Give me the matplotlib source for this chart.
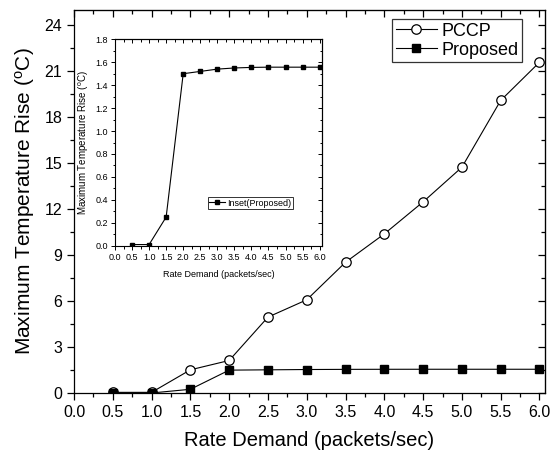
import matplotlib
matplotlib.use('Agg')
import matplotlib.pyplot as plt
from matplotlib.ticker import MultipleLocator

plt.rcParams['font.family'] = ['Liberation Sans', 'DejaVu Sans']
plt.rcParams['mathtext.default'] = 'regular'

# data
rate = [0.5, 1.0, 1.5, 2.0, 2.5, 3.0, 3.5, 4.0, 4.5, 5.0, 5.5, 6.0]
pccp = [0.05, 0.05, 1.52, 2.13, 4.96, 6.09, 8.54, 10.39, 12.48, 14.74, 19.1, 21.59]
proposed = [0.01, 0.01, 0.25, 1.50, 1.52, 1.54, 1.55, 1.555, 1.557, 1.557, 1.557, 1.557]

xticks = [0.0, 0.5, 1.0, 1.5, 2.0, 2.5, 3.0, 3.5, 4.0, 4.5, 5.0, 5.5, 6.0]
yticks = [0, 3, 6, 9, 12, 15, 18, 21, 24]
inset_yticks = [0.0, 0.2, 0.4, 0.6, 0.8, 1.0, 1.2, 1.4, 1.6, 1.8]

narrow = ['Liberation Sans Narrow', 'Liberation Sans', 'DejaVu Sans']

fig = plt.figure(figsize=(5.54, 4.55), dpi=100)
ax = fig.add_axes([0.1336, 0.136, 0.850, 0.842])

ax.plot(rate, pccp, '-o', color='black', lw=0.8, ms=6.8, mfc='white', mec='black', mew=0.9, label='PCCP')
ax.plot(rate, proposed, '-s', color='black', lw=0.8, ms=6.2, mfc='black', mec='black', label='Proposed')

ax.set_xlim(0, 6.07)
ax.set_ylim(0, 25)
ax.set_xticks(xticks)
ax.set_xticklabels(['%.1f' % v for v in xticks])
ax.set_yticks(yticks)
ax.xaxis.set_minor_locator(MultipleLocator(0.25))
ax.yaxis.set_minor_locator(MultipleLocator(1.5))
ax.tick_params(which='both', direction='out', labelsize=11.5, width=0.9)
ax.tick_params(which='major', length=5)
ax.tick_params(which='minor', length=3)
for s in ax.spines.values():
    s.set_linewidth(0.9)

# mirrored inward ticks on top/right
top = ax.secondary_xaxis('top')
top.set_xticks(xticks)
top.xaxis.set_minor_locator(MultipleLocator(0.25))
top.tick_params(which='both', direction='in', labeltop=False, width=0.9)
top.tick_params(which='major', length=5)
top.tick_params(which='minor', length=3)
right = ax.secondary_yaxis('right')
right.set_yticks(yticks)
right.yaxis.set_minor_locator(MultipleLocator(1.5))
right.tick_params(which='both', direction='in', labelright=False, width=0.9)
right.tick_params(which='major', length=5)
right.tick_params(which='minor', length=3)

ax.set_xlabel('Rate Demand (packets/sec)', fontsize=14.5, labelpad=8)
ax.set_ylabel('Maximum Temperature Rise ($^{o}$C)', fontsize=15, labelpad=5)

leg = ax.legend(loc='upper right', bbox_to_anchor=(0.952, 0.976), borderaxespad=0,
                fontsize=13, frameon=True, fancybox=False,
                edgecolor='black', handlelength=2.3, handletextpad=0.25,
                borderpad=0.2, labelspacing=0.1)
leg.get_frame().set_linewidth(0.9)

# inset
ins = fig.add_axes([0.2076, 0.46, 0.3736, 0.4536])
ins.plot(rate, proposed, '-s', color='black', lw=0.8, ms=3.0, label='Inset(Proposed)')
ins.set_xlim(0, 6.07)
ins.set_ylim(0, 1.8)
ins.set_xticks(xticks)
ins.set_xticklabels(['%.1f' % v for v in xticks], family=narrow)
ins.set_yticks(inset_yticks)
ins.set_yticklabels(['%.1f' % v for v in inset_yticks], family=narrow)
ins.xaxis.set_minor_locator(MultipleLocator(0.25))
ins.yaxis.set_minor_locator(MultipleLocator(0.1))
ins.tick_params(which='both', direction='out', labelsize=6.5, width=0.7, pad=2)
ins.tick_params(which='major', length=3)
ins.tick_params(which='minor', length=1.8)
for s in ins.spines.values():
    s.set_linewidth(0.8)
itop = ins.secondary_xaxis('top')
itop.set_xticks(xticks)
itop.xaxis.set_minor_locator(MultipleLocator(0.25))
itop.tick_params(which='both', direction='in', labeltop=False, width=0.7)
itop.tick_params(which='major', length=3)
itop.tick_params(which='minor', length=1.8)
iright = ins.secondary_yaxis('right')
iright.set_yticks(inset_yticks)
iright.yaxis.set_minor_locator(MultipleLocator(0.1))
iright.tick_params(which='both', direction='in', labelright=False, width=0.7)
iright.tick_params(which='major', length=3)
iright.tick_params(which='minor', length=1.8)

ins.set_xlabel('Rate Demand (packets/sec)', fontsize=6.5, family=narrow, labelpad=6)
ins.set_ylabel('Maximum Temperature Rise ($^{o}$C)', fontsize=7, family=narrow, labelpad=3)
ileg = ins.legend(loc='lower right', bbox_to_anchor=(0.858, 0.178), borderaxespad=0,
                  prop={'family': narrow, 'size': 6.5}, frameon=True, fancybox=False,
                  edgecolor='black', handlelength=1.8, handletextpad=0.2,
                  borderpad=0.15)
ileg.get_frame().set_linewidth(0.7)

fig.savefig('out.png', dpi=100)
